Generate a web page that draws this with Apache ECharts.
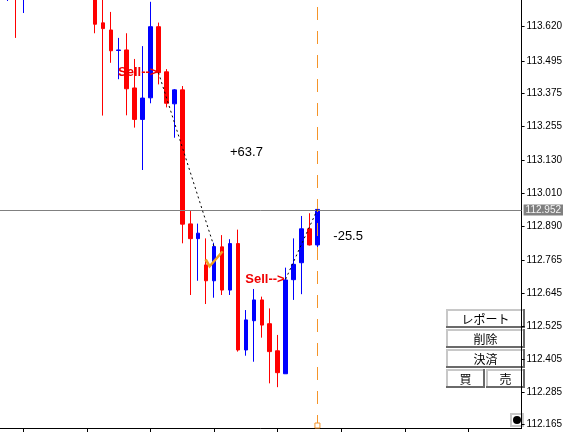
<!DOCTYPE html>
<html>
<head>
<meta charset="utf-8">
<script src="https://cdn.jsdelivr.net/npm/echarts@6/dist/echarts.min.js"></script>
<style>
  html, body { margin: 0; padding: 0; background: #fff; }
  #chart { width: 565px; height: 432px; }
</style>
</head>
<body>
<div id="chart"></div>
<script>
// bars, oldest first (the first ones are scrolled above the visible range)
const OPEN = [113.780, 113.840, 113.760, 113.820, 113.880, 113.930, 113.900, 113.860, 113.890, 113.840,
  113.810, 113.780, 113.634, 113.608, 113.533, 113.535, 113.396, 113.281, 113.360, 113.620,
  113.455, 113.338, 113.389, 112.899, 112.845, 112.749, 112.691, 112.815, 112.657, 112.827,
  112.438, 112.545, 112.621, 112.534, 112.435, 112.351, 112.695, 112.757, 112.881, 112.822];
const CLOSE = [113.850, 113.760, 113.820, 113.880, 113.930, 113.900, 113.860, 113.890, 113.840, 113.810,
  113.780, 113.629, 113.613, 113.532, 113.535, 113.393, 113.281, 113.359, 113.620, 113.452,
  113.340, 113.389, 112.898, 112.845, 112.865, 112.691, 112.816, 112.657, 112.827, 112.438,
  112.548, 112.621, 112.529, 112.432, 112.355, 112.694, 112.751, 112.881, 112.822, 112.952];
const LOW = [113.714, 113.579, 113.670, 113.780, 113.840, 113.860, 113.820, 113.810, 113.790, 113.760,
  113.740, 113.596, 113.295, 113.488, 113.428, 113.296, 113.251, 113.096, 113.340, 113.409,
  113.325, 113.214, 112.828, 112.639, 112.691, 112.606, 112.629, 112.639, 112.639, 112.432,
  112.417, 112.395, 112.483, 112.316, 112.302, 112.351, 112.621, 112.642, 112.820, 112.795];
const HIGH = [113.880, 113.870, 113.840, 113.910, 113.970, 113.980, 113.940, 113.920, 113.910, 113.870,
  113.850, 113.800, 113.740, 113.674, 113.579, 113.596, 113.502, 113.549, 113.711, 113.635,
  113.465, 113.392, 113.403, 112.946, 112.900, 112.846, 112.830, 112.858, 112.843, 112.878,
  112.584, 112.661, 112.633, 112.590, 112.493, 112.739, 112.846, 112.928, 112.938, 112.964];

// right price scale labels, bottom time ticks (bar index)
const PRICE_TICKS = [113.620, 113.495, 113.375, 113.255, 113.130, 113.010, 112.890,
  112.765, 112.645, 112.525, 112.405, 112.285, 112.165];
const TIME_TICKS = [2, 10, 18, 26, 34, 42, 50, 58];

const BID = 112.952;
const NOW_BAR = 39;

// trades: [bar, price] open -> close
const TRADE1 = [[19, 113.452], [26, 112.815]];
const TRADE2 = [[35, 112.697], [NOW_BAR, BID]];
const SELL_TEXT = ['Sell-->', 'Sell-->'];
const NOTES = [{ at: [28, 113.160], text: '+63.7' }, { at: [41, 112.854], text: '-25.5' }];
const BUTTON_ROWS = [['レポート'], ['削除'], ['決済'], ['買', '売']];

const X_MIN = -0.9375, X_MAX = 64.6875;
const Y_MIN = 112.1527, Y_MAX = 113.7176;
const ORANGE = '#f5952a';

const candles = OPEN.map((o, i) => [i, o, CLOSE[i], LOW[i], HIGH[i]]);

function button(x, y, w, h, text) {
  return {
    type: 'group', x: x, y: y, z: 100,
    children: [
      { type: 'rect', shape: { x: 0, y: 0, width: w, height: h }, style: { fill: '#6a6a6a' } },
      { type: 'rect', shape: { x: 0, y: 0, width: w - 2, height: h - 2 }, style: { fill: '#c8c8c8' } },
      { type: 'rect', shape: { x: 2, y: 2, width: w - 4, height: h - 4 }, style: { fill: '#ffffff' } },
      { type: 'text', x: w / 2, y: h / 2 + 1, style: { text: text, fill: '#000',
        font: '12px "Noto Sans CJK JP"', align: 'center', verticalAlign: 'middle' } }
    ]
  };
}

const graphics = [];
BUTTON_ROWS.forEach((row, r) => {
  const w = 79 / row.length;
  row.forEach((t, c) => graphics.push(button(446 + c * (w + 0.5), 309 + r * 20, Math.floor(w), 19, t)));
});
graphics.push({
  type: 'group', x: 510, y: 413, z: 100,
  children: [
    { type: 'rect', shape: { x: 0, y: 0, width: 14, height: 14 }, style: { fill: '#c8c8c8' } },
    { type: 'rect', shape: { x: 2, y: 2, width: 10, height: 10 }, style: { fill: '#ffffff' } },
    { type: 'circle', shape: { cx: 7, cy: 7, r: 4 }, style: { fill: '#000' } }
  ]
});

const notesData = [];
[TRADE1[0], TRADE2[0]].forEach((p, k) => notesData.push({
  value: p,
  label: { show: true, position: 'left', distance: 1, formatter: SELL_TEXT[k],
    color: '#f00000', fontFamily: 'Liberation Sans', fontWeight: 'bold', fontSize: 13 }
}));
NOTES.forEach(n => notesData.push({
  value: n.at,
  label: { show: true, position: 'right', distance: 0, formatter: n.text,
    color: '#000', fontFamily: 'Liberation Sans', fontSize: 13 }
}));

const chart = echarts.init(document.getElementById('chart'), null, { renderer: 'canvas' });
chart.setOption({
  animation: false,
  backgroundColor: '#ffffff',
  grid: { left: 0, top: 0, right: 40, bottom: 4 },
  xAxis: {
    type: 'value', min: X_MIN, max: X_MAX,
    axisLine: { show: true, onZero: false, lineStyle: { color: '#000', width: 1 } },
    axisTick: { show: true, length: 4, customValues: TIME_TICKS, lineStyle: { color: '#000' } },
    axisLabel: { show: false },
    splitLine: { show: false }
  },
  yAxis: {
    type: 'value', position: 'right', min: Y_MIN, max: Y_MAX,
    axisLine: { show: true, onZero: false, lineStyle: { color: '#000', width: 1 } },
    axisTick: { show: true, length: 3, customValues: PRICE_TICKS, lineStyle: { color: '#000' } },
    axisLabel: { customValues: PRICE_TICKS, formatter: v => v.toFixed(3), margin: 5,
      color: '#000', fontFamily: 'Liberation Sans', fontSize: 10 },
    splitLine: { show: false }
  },
  graphic: graphics,
  series: [
    {
      type: 'candlestick',
      data: candles,
      barWidth: 4,
      clip: true,
      itemStyle: { color: '#0000ff', color0: '#ff0000', borderColor: '#0000ff', borderColor0: '#ff0000', borderWidth: 1 },
      markLine: {
        silent: true, symbol: ['none', 'none'],
        lineStyle: { color: '#808080', width: 1, type: 'solid', opacity: 1 },
        label: { show: true, position: 'end', distance: 2, formatter: BID.toFixed(3),
          color: '#f4f4f4', backgroundColor: '#808080', padding: [1, 2, 0, 2],
          fontFamily: 'Liberation Sans', fontSize: 10 },
        data: [{ yAxis: BID }]
      }
    },
    {
      // current bar marker line
      type: 'line', data: [], symbol: 'none',
      markLine: {
        silent: true, symbol: ['none', 'none'],
        lineStyle: { color: ORANGE, width: 1, type: [13, 11], opacity: 1 },
        label: { show: false },
        data: [{ xAxis: NOW_BAR }]
      }
    },
    { type: 'line', data: TRADE1, symbol: 'none', z: 5, lineStyle: { color: '#000', width: 1, type: [2, 3] } },
    { type: 'line', data: TRADE2, symbol: 'none', z: 5, lineStyle: { color: '#000', width: 1, type: [2, 3] } },
    {
      type: 'scatter', z: 6, clip: false,
      itemStyle: { opacity: 1 },
      data: [
        { value: TRADE1[1], symbol: 'path://M0,8 L4,15 L17,0', symbolSize: [17, 15], symbolOffset: [0, 12],
          itemStyle: { color: 'rgba(0,0,0,0)', borderColor: '#f0a020', borderWidth: 2.5, opacity: 1 } },
        { value: [NOW_BAR, Y_MIN], symbol: 'rect', symbolSize: 5, symbolOffset: [0, -2.5],
          itemStyle: { color: '#ffffff', borderColor: ORANGE, borderWidth: 1, opacity: 1 } }
      ]
    },
    {
      type: 'scatter', z: 7, clip: false, symbolSize: 0,
      itemStyle: { color: 'rgba(0,0,0,0)', opacity: 1 },
      data: notesData
    }
  ]
});
</script>
</body>
</html>
